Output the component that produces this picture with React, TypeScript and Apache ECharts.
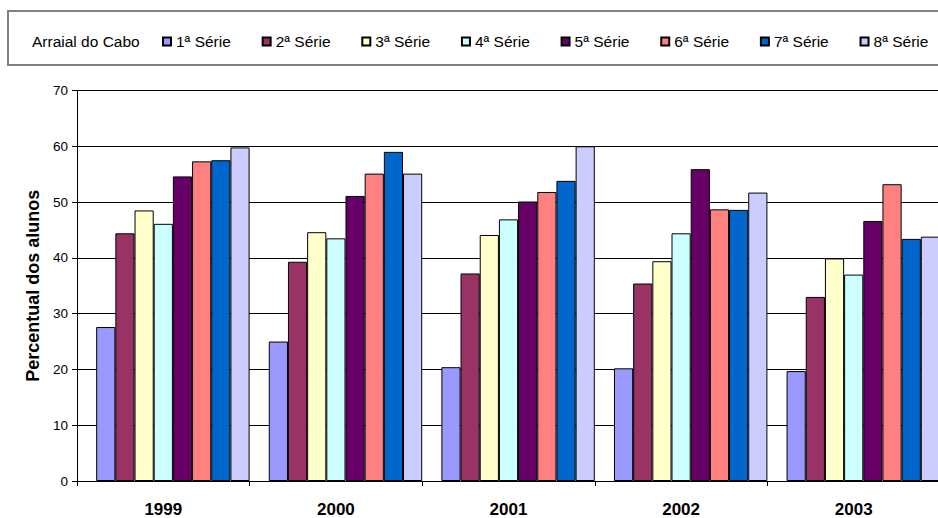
import React, { useEffect, useRef } from "react";
import * as echarts from "echarts";

const categories = ["1999", "2000", "2001", "2002", "2003"];
const seriesNames = ["1ª Série", "2ª Série", "3ª Série", "4ª Série", "5ª Série", "6ª Série", "7ª Série", "8ª Série"];
const serie1 = [27.6, 25.0, 20.4, 20.2, 19.7];
const serie2 = [44.4, 39.3, 37.2, 35.4, 33.0];
const serie3 = [48.5, 44.6, 44.1, 39.4, 39.9];
const serie4 = [46.1, 43.5, 46.9, 44.4, 37.0];
const serie5 = [54.6, 51.1, 50.1, 55.9, 46.6];
const serie6 = [57.3, 55.1, 51.8, 48.7, 53.2];
const serie7 = [57.5, 59.0, 53.8, 48.6, 43.4];
const serie8 = [59.8, 55.1, 60.0, 51.7, 43.8];
const seriesValues = [serie1, serie2, serie3, serie4, serie5, serie6, serie7, serie8];
const colors = ["#9999FF", "#993366", "#FFFFCC", "#CCFFFF", "#660066", "#FF8080", "#0066CC", "#CCCCFF"];
const yMin = 0;
const yMax = 70;
const yInterval = 10;
const legendTitle = "Arraial do Cabo";
const yAxisTitle = "Percentual dos alunos";

const FONT = '"Liberation Sans", Arial, sans-serif';

export default function App() {
  const ref = useRef<HTMLDivElement>(null);

  useEffect(() => {
    if (!ref.current) return;
    const chart = echarts.init(ref.current, undefined, { renderer: "svg" });
    const spacer = {
      name: "__spacer__",
      type: "bar",
      data: categories.map(() => "-"),
      silent: true,
      barGap: "0%",
      barCategoryGap: "0%",
    };
    const bars = seriesNames.map((name, i) => ({
      name,
      type: "bar",
      data: seriesValues[i],
      barGap: "0%",
      barCategoryGap: "0%",
      itemStyle: { color: colors[i], borderColor: "#000", borderWidth: 1 },
    }));
    chart.setOption({
      animation: false,
      backgroundColor: "#fff",
      textStyle: { fontFamily: FONT },
      graphic: [
        {
          type: "rect",
          shape: { x: 8, y: 11, width: 1000, height: 54 },
          style: { fill: "none", stroke: "#808080", lineWidth: 2 },
          silent: true,
        },
        {
          type: "text",
          x: 32,
          y: 41.5,
          style: {
            text: legendTitle,
            fontFamily: FONT,
            fontSize: 15.5,
            fill: "#000",
            verticalAlign: "middle",
            align: "left",
          },
          silent: true,
        },
      ],
      legend: {
        data: seriesNames,
        left: 162,
        top: 33.5,
        padding: 0,
        itemWidth: 8,
        itemHeight: 8,
        itemGap: 30.8,
        icon: "rect",
        textStyle: { fontFamily: FONT, fontSize: 15.5, color: "#000" },
        selectedMode: false,
      },
      grid: { left: 77, top: 90.5, right: 20, bottom: 37, containLabel: false },
      xAxis: {
        type: "category",
        data: categories,
        axisLine: { show: true, lineStyle: { color: "#000", width: 1 } },
        axisTick: { show: true, length: 5, lineStyle: { color: "#000" }, interval: 0 },
        axisLabel: { color: "#000", fontFamily: FONT, fontSize: 17, fontWeight: "bold", margin: 20, interval: 0 },
        splitLine: { show: false },
      },
      yAxis: {
        type: "value",
        min: yMin,
        max: yMax,
        interval: yInterval,
        name: yAxisTitle,
        nameLocation: "middle",
        nameRotate: 90,
        nameGap: 31,
        nameTextStyle: { color: "#000", fontFamily: FONT, fontSize: 18, fontWeight: "bold" },
        axisLine: { show: true, lineStyle: { color: "#000", width: 1 } },
        axisTick: { show: true, length: 5, lineStyle: { color: "#000" } },
        axisLabel: { color: "#000", fontFamily: FONT, fontSize: 13.5, margin: 9 },
        splitLine: { show: true, lineStyle: { color: "#000", width: 1 } },
      },
      series: [spacer, ...bars],
    });
    return () => chart.dispose();
  }, []);

  return (
    <div style={{ position: "fixed", left: 0, top: 0, width: 938, height: 518, overflow: "hidden", background: "#fff" }}>
      <div ref={ref} style={{ width: 960, height: 518 }} />
    </div>
  );
}
